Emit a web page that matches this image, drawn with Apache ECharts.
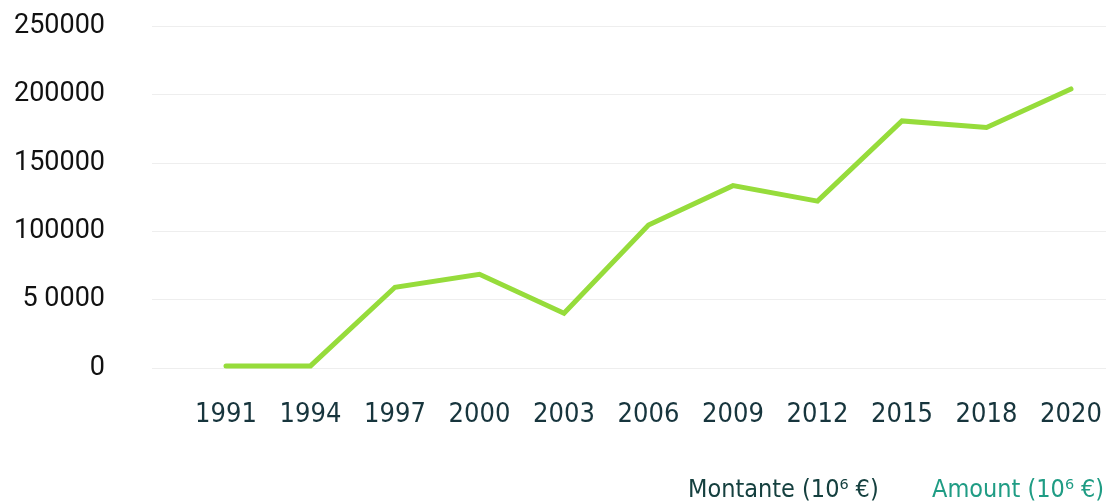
<!DOCTYPE html>
<html>
<head>
<meta charset="utf-8">
<script src="https://cdn.jsdelivr.net/npm/echarts@6/dist/echarts.min.js"></script>
<style>
html,body{margin:0;padding:0;background:#fff;}
#chart{width:1106px;height:501px;}
</style>
</head>
<body>
<div id="chart"></div>
<script>
var years=['1991','1994','1997','2000','2003','2006','2009','2012','2015','2018','2020'];
var amounts=[1500,1500,59000,68500,40000,104500,133300,122000,180600,175800,204000];
var yTickLabels={0:'0',50000:'5 0000',100000:'100000',150000:'150000',200000:'200000',250000:'250000'};

var narrowFont="'DejaVu Sans Condensed', 'Liberation Sans', sans-serif";

var myChart=echarts.init(document.getElementById('chart'));

var option={
	backgroundColor:'#ffffff',
	animation:false,
	grid:[
		{left:152,right:0,top:26,bottom:133},
		{left:226,right:35,top:26,bottom:133}
	],
	xAxis:[
		{gridIndex:0,type:'value',show:false},
		{
			gridIndex:1,
			type:'category',
			data:years,
			boundaryGap:false,
			axisLine:{show:false},
			axisTick:{show:false},
			axisLabel:{
				margin:33,
				fontFamily:narrowFont,
				fontSize:27,
				color:'#17353d'
			}
		}
	],
	yAxis:[
		{
			gridIndex:0,
			type:'value',
			min:0,
			max:250000,
			interval:50000,
			axisLine:{show:false},
			axisTick:{show:false},
			splitLine:{lineStyle:{color:'#eeeeee',width:1}},
			axisLabel:{
				margin:47,
				fontFamily:'Roboto',
				fontSize:27,
				color:'#111111',
				formatter:function(v){return yTickLabels[v];}
			}
		},
		{gridIndex:1,type:'value',min:0,max:250000,show:false}
	],
	graphic:[
		{type:'text',left:688,top:478,style:{text:'Montante (10⁶ €)',fontFamily:narrowFont,fontSize:25,fill:'#15403f'}},
		{type:'text',left:932,top:478,style:{text:'Amount (10⁶ €)',fontFamily:narrowFont,fontSize:25,fill:'#1f9c84'}}
	],
	series:[{
		name:'Amount',
		type:'line',
		xAxisIndex:1,
		yAxisIndex:1,
		data:amounts,
		showSymbol:false,
		symbol:'none',
		lineStyle:{color:'#96dc3b',width:5,cap:'round',join:'miter'}
	}]
};

myChart.setOption(option);
</script>
</body>
</html>
